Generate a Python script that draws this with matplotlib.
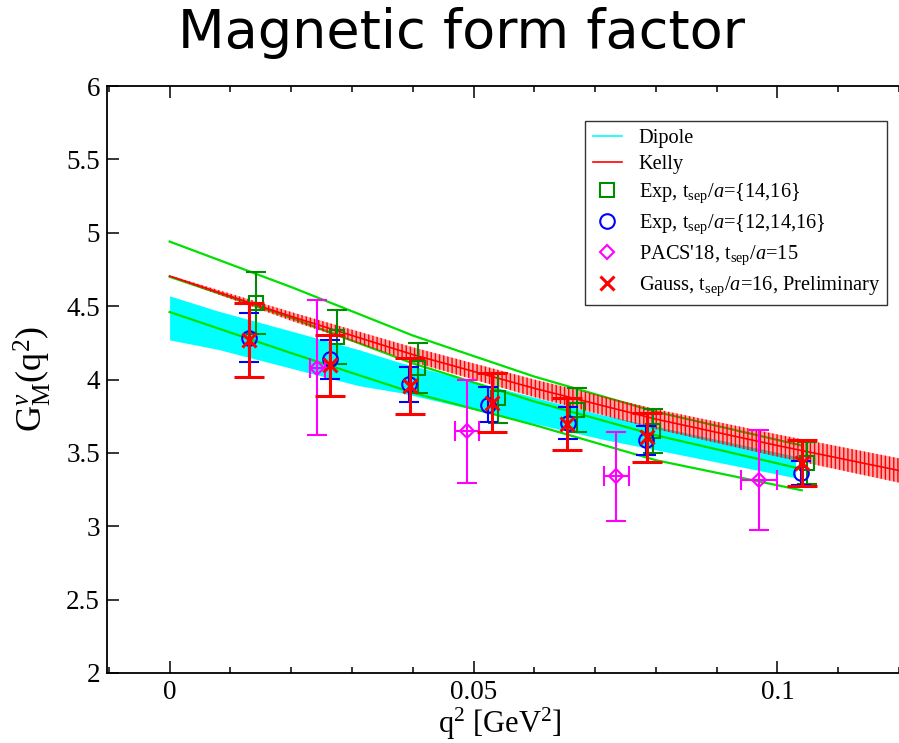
import numpy as np
import matplotlib.pyplot as plt
from matplotlib.lines import Line2D
from matplotlib.ticker import MultipleLocator

plt.rcParams['font.family'] = ['Liberation Serif', 'DejaVu Serif']
plt.rcParams['mathtext.fontset'] = 'custom'
plt.rcParams['mathtext.rm'] = 'Liberation Serif'
plt.rcParams['mathtext.it'] = 'Liberation Serif:italic'
plt.rcParams['hatch.linewidth'] = 1.0

# =========================
# Data
# =========================
# Dipole band (cyan)
dip_x = [0.0, 0.008, 0.031, 0.038, 0.071, 0.103]
dip_hi = [4.57, 4.466, 4.205, 4.114, 3.761, 3.477]
dip_lo = [4.27, 4.205, 3.959, 3.91, 3.595, 3.33]

# Kelly band (red, hatched)
kel_x = [0.0, 0.02, 0.04, 0.06, 0.08, 0.10, 0.12]
kel_c = [4.705, 4.43, 4.17, 3.94, 3.73, 3.55, 3.38]
kel_err = [0.005, 0.03, 0.05, 0.06, 0.068, 0.076, 0.083]

# green fit lines
fit_x = [0.0, 0.02, 0.04, 0.06, 0.08, 0.104]
fit_up = [4.94, 4.63, 4.30, 4.02, 3.78, 3.55]
fit_mid = [4.70, 4.42, 4.11, 3.85, 3.62, 3.39]
fit_lo = [4.46, 4.18, 3.91, 3.69, 3.45, 3.245]

# Exp, tsep/a={14,16}
sq_x = [0.0142, 0.0275, 0.0409, 0.0541, 0.0670, 0.0796, 0.1049]
sq_y = [4.52, 4.29, 4.08, 3.875, 3.795, 3.647, 3.431]
sq_err = [0.21, 0.185, 0.17, 0.17, 0.15, 0.15, 0.14]

# Exp, tsep/a={12,14,16}
ci_x = [0.0131, 0.0264, 0.0394, 0.0524, 0.0655, 0.0784, 0.1038]
ci_y = [4.285, 4.137, 3.966, 3.829, 3.704, 3.586, 3.363]
ci_err = [0.165, 0.135, 0.12, 0.12, 0.11, 0.10, 0.08]

# PACS'18
pa_x = [0.0243, 0.0489, 0.0735, 0.0970]
pa_y = [4.08, 3.647, 3.34, 3.317]
pa_yerr = [0.46, 0.35, 0.305, 0.34]
pa_xerr = [0.0012, 0.002, 0.0021, 0.003]

# Gauss, tsep/a=16
ga_x = [0.0131, 0.0264, 0.0395, 0.0530, 0.0654, 0.0785, 0.1041]
ga_y = [4.268, 4.096, 3.954, 3.841, 3.697, 3.606, 3.431]
ga_err = [0.25, 0.21, 0.19, 0.20, 0.18, 0.165, 0.16]

# =========================
# Plot
# =========================
fig = plt.figure(figsize=(8.99, 7.43), dpi=100)
ax = fig.add_axes([107/899, 1 - 673/743, 792/899, 587/743])

ax.fill_between(dip_x, dip_lo, dip_hi, color='#00ffff', linewidth=0, zorder=1)

for yy in (fit_up, fit_mid, fit_lo):
    ax.plot(fit_x, yy, color='#00e000', lw=1.6, zorder=2)

kc = np.array(kel_c)
ke = np.array(kel_err)
ax.fill_between(kel_x, kc - ke, kc + ke, facecolor=(1, 0, 0, 0.35),
                edgecolor='red', hatch='||||', linewidth=0, zorder=3)
ax.plot(kel_x, kel_c, color='red', lw=1.2, zorder=3)

ax.errorbar(sq_x, sq_y, yerr=sq_err, fmt='s', ms=9.4, mfc='none', mec='#008c00',
            mew=1.5, ecolor='#008c00', elinewidth=1.5, capsize=7, capthick=1.5, zorder=4)
ax.errorbar(ci_x, ci_y, yerr=ci_err, fmt='o', ms=10.5, mfc='none', mec='blue',
            mew=1.5, ecolor='blue', elinewidth=1.5, capsize=7, capthick=1.5, zorder=5)
ax.errorbar(pa_x, pa_y, yerr=pa_yerr, xerr=pa_xerr, fmt='D', ms=7.3, mfc='none',
            mec='#ff00ff', mew=1.5, ecolor='#ff00ff', elinewidth=1.5, capsize=7,
            capthick=1.5, zorder=6)
ax.errorbar(ga_x, ga_y, yerr=ga_err, fmt='x', ms=9.5, mec='red', mew=2.2,
            ecolor='red', elinewidth=2.2, capsize=11, capthick=2.2, zorder=7)

ax.set_xlim(-0.0103, 0.12)
ax.set_ylim(2, 6)
ax.xaxis.set_minor_locator(MultipleLocator(0.01))
ax.set_xticks([0, 0.05, 0.1])
ax.set_xticklabels(['0', '0.05', '0.1'])
ax.set_yticks([2, 2.5, 3, 3.5, 4, 4.5, 5, 5.5, 6])
ax.set_yticklabels(['2', '2.5', '3', '3.5', '4', '4.5', '5', '5.5', '6'])
ax.tick_params(which='both', direction='in', top=True, right=False, width=1.1)
ax.tick_params(which='major', length=8.6, labelsize=19.5)
ax.tick_params(which='minor', length=4.3)
ax.tick_params(axis='x', pad=5)
ax.tick_params(axis='y', pad=5)
ax.spines['right'].set_visible(False)
for s in ('left', 'bottom', 'top'):
    ax.spines[s].set_linewidth(1.3)

ax.set_xlabel(r'q$^2$ [GeV$^2$]', fontsize=22, va='bottom')
ax.set_ylabel(r'G$_\mathrm{M}^{\nu}$(q$^2$)', fontsize=26)
ax.xaxis.set_label_coords(0.496, -0.117)
ax.yaxis.set_label_coords(-0.068, 0.5)

handles = [
    Line2D([], [], color='#00ffff', lw=1.2),
    Line2D([], [], color='red', lw=1.2),
    Line2D([], [], ls='none', marker='s', ms=9.4, mfc='none', mec='#008c00', mew=1.5),
    Line2D([], [], ls='none', marker='o', ms=10.5, mfc='none', mec='blue', mew=1.5),
    Line2D([], [], ls='none', marker='D', ms=7.3, mfc='none', mec='#ff00ff', mew=1.5),
    Line2D([], [], ls='none', marker='x', ms=9.5, mec='red', mew=2.2),
]
labels = [
    'Dipole',
    'Kelly',
    r'Exp, t$_\mathrm{sep}$/$a$={14,16}',
    r'Exp, t$_\mathrm{sep}$/$a$={12,14,16}',
    r"PACS'18, t$_\mathrm{sep}$/$a$=15",
    r'Gauss, t$_\mathrm{sep}$/$a$=16, Preliminary',
]
leg = ax.legend(handles, labels, loc='upper right', bbox_to_anchor=(0.985, 0.94),
                fontsize=14.7, frameon=True, fancybox=False, edgecolor='black',
                handlelength=1.45, handletextpad=0.8, labelspacing=0.36,
                borderpad=0.35, borderaxespad=0)
leg.get_frame().set_linewidth(1.0)

fig.text(462/899, 1 - 48/743, 'Magnetic form factor', ha='center', va='baseline',
         fontsize=39, family='DejaVu Sans')

fig.savefig('out.png', dpi=100)
